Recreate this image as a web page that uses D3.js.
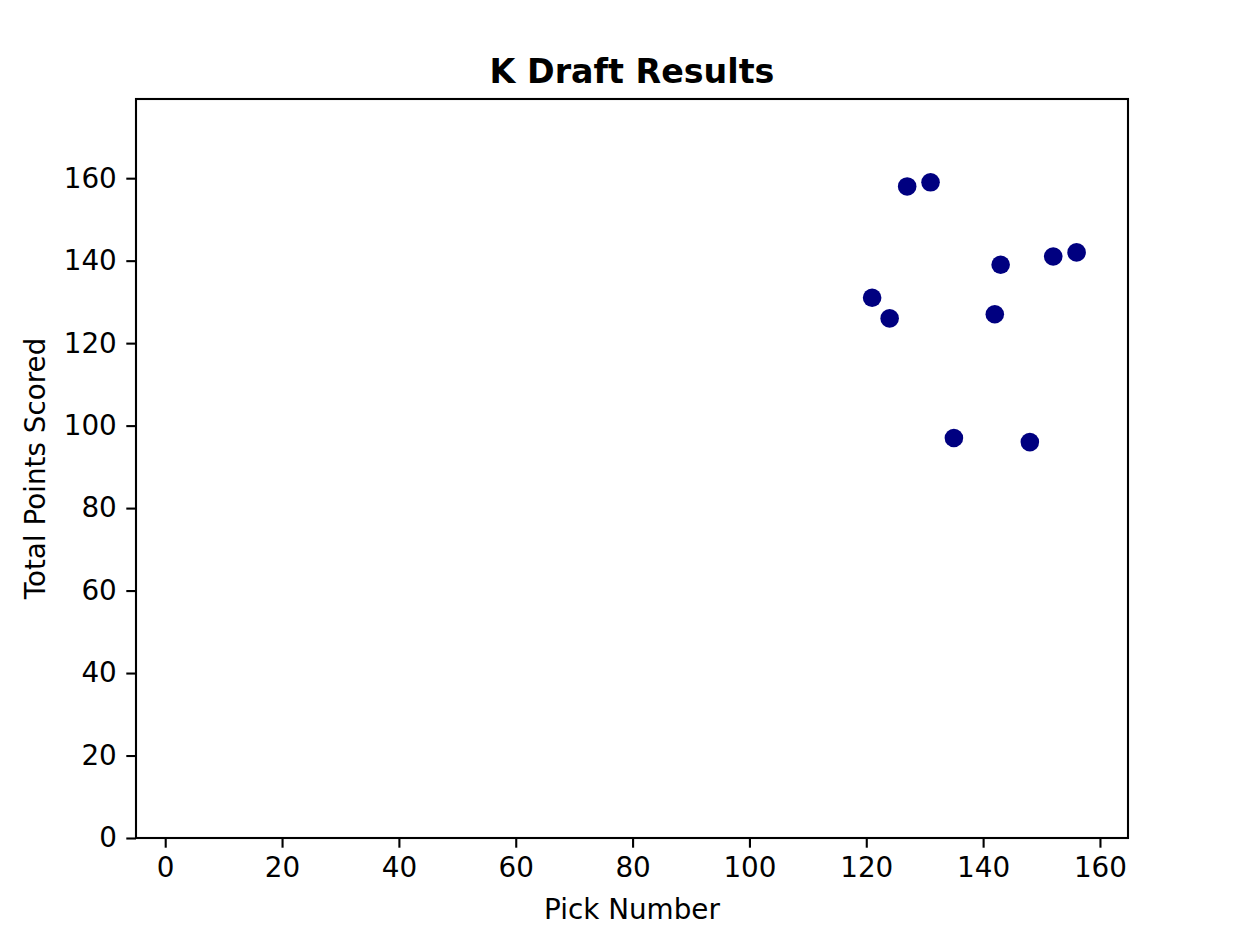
<!DOCTYPE html>
<html>
<head>
<meta charset="utf-8">
<style>
	body { margin: 0; background: #fff; }
	svg text { font-family: "DejaVu Sans", sans-serif; fill: #000; }
</style>
</head>
<body>
<div id="vis-scatter"></div>
<script src="https://d3js.org/d3.v7.min.js"></script>
<script>

	// Data //
	// ---- //
	const pickNumber = [121, 124, 127, 131, 135, 142, 143, 148, 152, 156];
	const totalPoints = [131, 126, 158, 159, 97, 127, 139, 96, 141, 142];
	const xTicks = [0, 20, 40, 60, 80, 100, 120, 140, 160];
	const yTicks = [0, 20, 40, 60, 80, 100, 120, 140, 160];

	// Setup //
	// ----- //
	const W = 1238, H = 932;
	const margin = {top: 99, right: 110, bottom: 94, left: 136},
		width = W - margin.left - margin.right,
		height = H - margin.top - margin.bottom;

	const svg = d3.select("#vis-scatter")
		.append("svg")
			.attr("width", W)
			.attr("height", H);

	const g = svg.append("g")
		.attr("transform", "translate(" + margin.left + "," + margin.top + ")");

	// Scales
	const x = d3.scaleLinear().domain([-5.0, 164.8]).range([0, width]);
	const y = d3.scaleLinear().domain([0, 179.2]).range([height, 0]);

	// Points
	g.selectAll("circle")
		.data(pickNumber.map((p, i) => [p, totalPoints[i]]))
		.enter().append("circle")
			.attr("cx", d => x(d[0]))
			.attr("cy", d => y(d[1]))
			.attr("r", 9.3)
			.style("fill", "#000080");

	// Axes
	const xAxis = g.append("g")
		.attr("transform", "translate(0," + height + ")")
		.call(d3.axisBottom(x).tickValues(xTicks).tickSize(9.7).tickPadding(9.5).tickFormat(d3.format("d")));
	const yAxis = g.append("g")
		.call(d3.axisLeft(y).tickValues(yTicks).tickSize(9.7).tickPadding(9.5).tickFormat(d3.format("d")));

	[xAxis, yAxis].forEach(a => {
		a.selectAll("path").remove();
		a.selectAll("line").attr("stroke", "#000").attr("stroke-width", 2.1);
		a.selectAll("text").style("font-size", "27.8px").attr("font-family", null);
	});

	// Frame
	g.append("rect")
		.attr("width", width)
		.attr("height", height)
		.attr("fill", "none")
		.attr("stroke", "#000")
		.attr("stroke-width", 2.1);

	// Labels
	svg.append("text")
		.attr("x", margin.left + width / 2)
		.attr("y", 83)
		.attr("text-anchor", "middle")
		.style("font-size", "33.3px")
		.style("font-weight", "bold")
		.text("K Draft Results");

	svg.append("text")
		.attr("x", margin.left + width / 2)
		.attr("y", 919)
		.attr("text-anchor", "middle")
		.style("font-size", "27.8px")
		.text("Pick Number");

	svg.append("text")
		.attr("transform", "translate(45," + (margin.top + height / 2) + ") rotate(-90)")
		.attr("text-anchor", "middle")
		.style("font-size", "27.8px")
		.text("Total Points Scored");

</script>
</body>
</html>
